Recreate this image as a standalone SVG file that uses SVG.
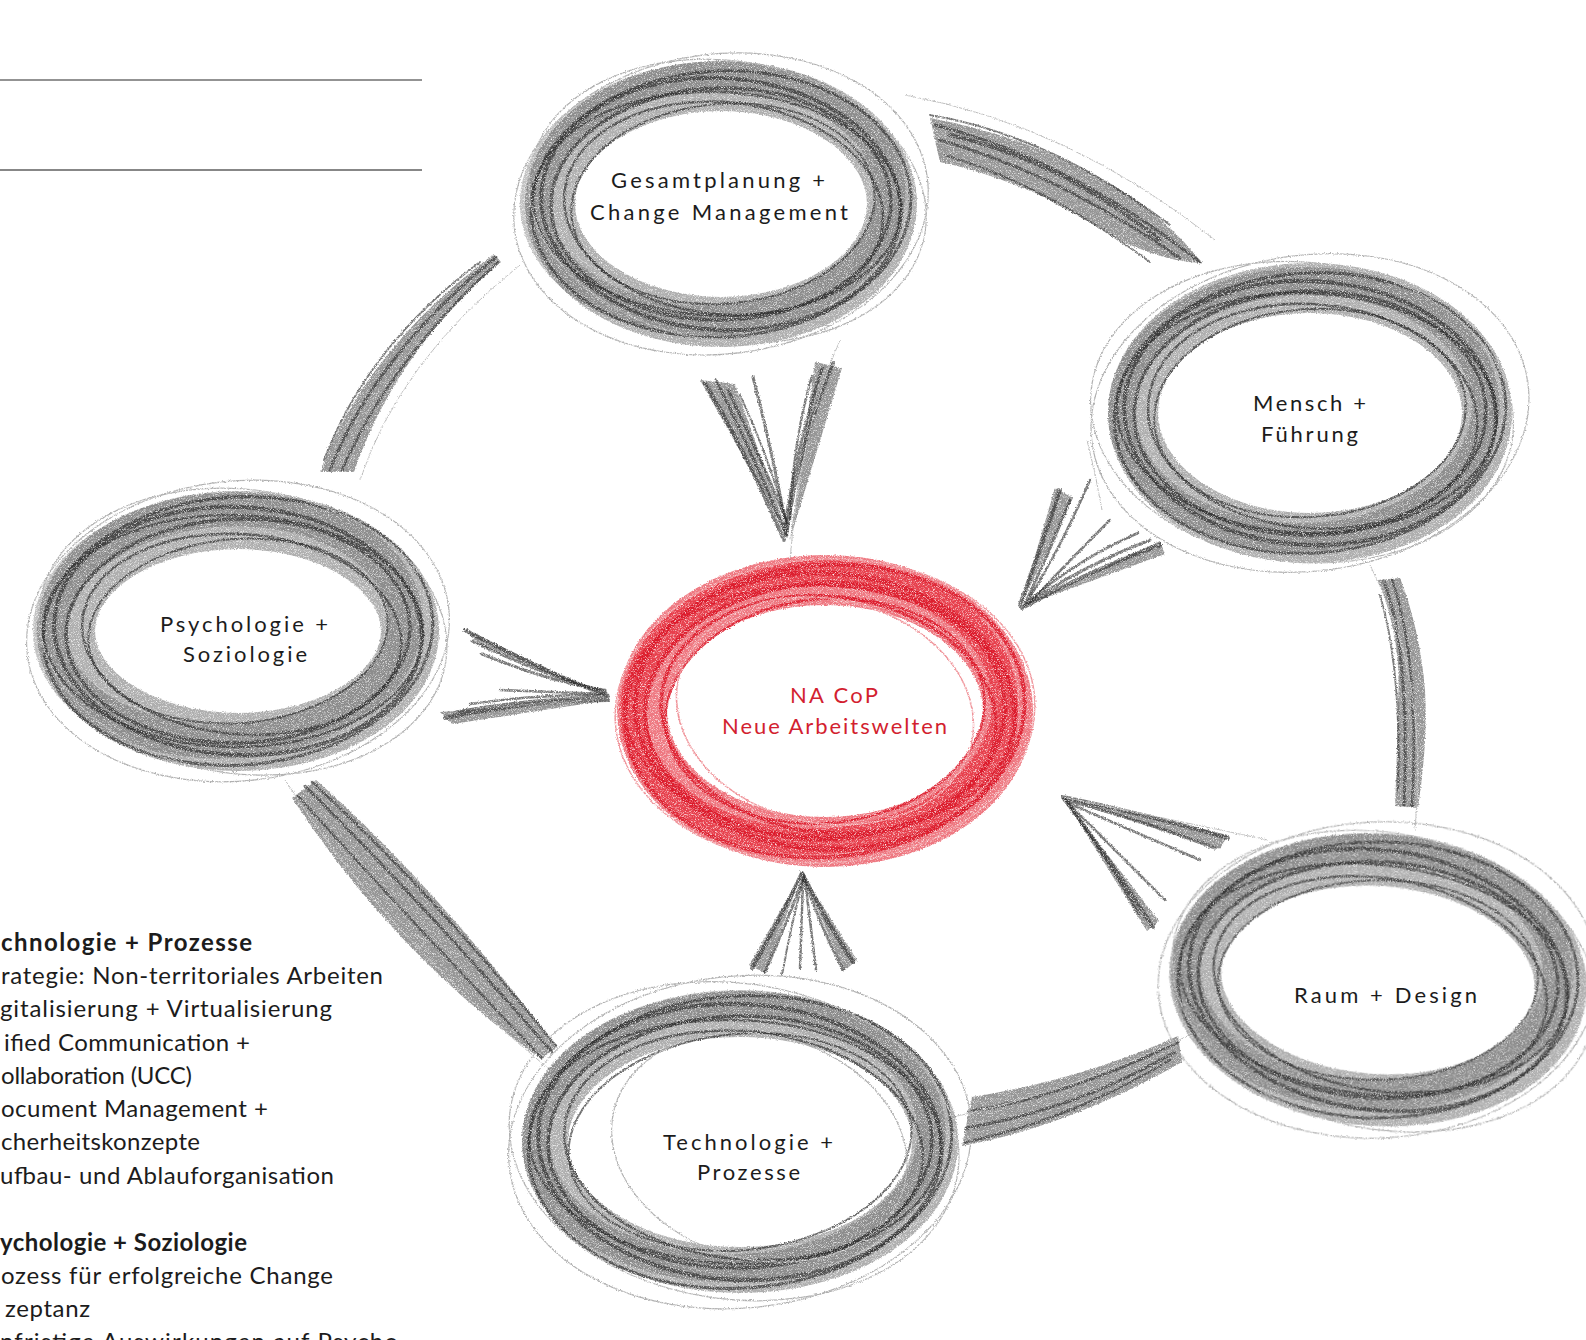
<svg xmlns="http://www.w3.org/2000/svg" width="1586" height="1340" viewBox="0 0 1586 1340">
<defs>
<style>
.band{fill:none;stroke:#6c6c6c;stroke-opacity:.55}
.band2{fill:none;stroke:#4e4e4e;stroke-opacity:.35}
.ln{fill:none;stroke:#303030;stroke-opacity:.7}
.fa{fill:none;stroke:#b0b0b0;stroke-width:1.2}
.rband{fill:none;stroke:#e21d2c;stroke-opacity:.6}
.rln{fill:none;stroke:#dc1a2a;stroke-opacity:.85}
.rfa{fill:none;stroke:#f0959b;stroke-width:1.5}
.hatch{fill:none;stroke:#2e2e2e;stroke-opacity:.65;stroke-linecap:round}
.hfill{fill:#4e4e4e;fill-opacity:.6;stroke:none}
.thin{fill:none;stroke:#bcbcbc;stroke-width:1}
.lbl{font-family:Lato,"Noto Sans","Liberation Sans",sans-serif;font-size:22px;fill:#1c1c1c}
.red{fill:#d31f30}
.lg{font-family:Lato,"Noto Sans","Liberation Sans",sans-serif;font-size:24px;fill:#1c1c1c}
.lgb{font-weight:700}
</style>
<filter id="pencil" x="-10%" y="-10%" width="120%" height="120%" color-interpolation-filters="sRGB">
<feTurbulence type="fractalNoise" baseFrequency="0.7" numOctaves="2" seed="2" result="t"/>
<feDisplacementMap in="SourceGraphic" in2="t" scale="3" xChannelSelector="R" yChannelSelector="G" result="d"/>
<feTurbulence type="fractalNoise" baseFrequency="1.4" numOctaves="1" seed="7" result="g"/>
<feColorMatrix in="g" type="matrix" values="0 0 0 0 0  0 0 0 0 0  0 0 0 0 0  2.8 0 0 0 -0.45" result="ga"/>
<feComposite in="d" in2="ga" operator="in"/>
</filter>
</defs>
<rect width="1586" height="1340" fill="#ffffff"/>

<g id="header-lines">
<line x1="0" y1="80" x2="422" y2="80" stroke="#6f6f6f" stroke-width="1.5"/>
<line x1="0" y1="170" x2="422" y2="170" stroke="#111111" stroke-width="1.2"/>
</g>

<g id="connectors" filter="url(#pencil)">
<g id="c-gesamt-mensch">
<path class="thin" d="M905,95 Q1070,125 1215,240"/>
<path class="hfill" d="M930,118 Q1040,138 1133,198 Q1175,228 1202,263 Q1165,262 1120,240 Q1060,205 1033,192 Q980,170 940,162 Z"/>
<path class="hatch" stroke-width="3" d="M935,125 Q1070,160 1200,262"/>
<path class="hatch" stroke-width="3" d="M940,140 Q1060,175 1180,258"/>
<path class="hatch" stroke-width="2" d="M945,155 Q1045,185 1150,262"/>
<path class="hatch" stroke-width="2" d="M930,115 Q1050,135 1170,225"/>
<path class="hatch" stroke-width="4" d="M950,135 Q1060,160 1160,240"/>
</g>
<g id="c-gesamt-center">
<path class="hfill" d="M700,380 L735,384 L790,540 Z"/>
<path class="hfill" d="M815,362 L842,368 L790,540 Z"/>
<path class="hatch" stroke-width="4" d="M705,383 Q745,450 784,540"/>
<path class="hatch" stroke-width="3" d="M716,380 Q752,452 786,535"/>
<path class="hatch" stroke-width="3" d="M728,390 Q760,455 788,525"/>
<path class="hatch" stroke-width="3" d="M753,377 Q772,450 787,530"/>
<path class="hatch" stroke-width="4" d="M833,363 Q800,440 786,535"/>
<path class="hatch" stroke-width="3" d="M822,368 Q796,450 784,530"/>
<path class="hatch" stroke-width="2.5" d="M812,376 Q793,440 790,520"/>
<path class="hatch" stroke-width="2" d="M740,395 Q770,460 786,520"/>
<path class="thin" d="M840,340 Q800,430 790,560"/>
</g>
<g id="c-psych-center">
<path class="hfill" d="M462,628 L480,645 L610,698 Z"/>
<path class="hfill" d="M440,712 L452,724 L610,700 Z"/>
<path class="hatch" stroke-width="4" d="M465,630 Q540,670 608,696"/>
<path class="hatch" stroke-width="3" d="M472,641 Q545,676 606,692"/>
<path class="hatch" stroke-width="3" d="M482,654 Q550,682 605,690"/>
<path class="hatch" stroke-width="4" d="M445,718 Q530,700 608,700"/>
<path class="hatch" stroke-width="3" d="M456,712 Q535,698 606,697"/>
<path class="hatch" stroke-width="2.5" d="M470,704 Q540,694 600,695"/>
<path class="hatch" stroke-width="2.5" d="M500,690 L605,694"/>
</g>
<g id="c-mensch-center">
<path class="thin" d="M1087,440 Q1096,475 1102,510"/>
<path class="hfill" d="M1055,488 L1073,498 L1020,607 Z"/>
<path class="hfill" d="M1160,541 L1165,554 L1020,607 Z"/>
<path class="hatch" stroke-width="4" d="M1060,490 Q1040,550 1020,605"/>
<path class="hatch" stroke-width="3" d="M1070,500 Q1046,560 1024,606"/>
<path class="hatch" stroke-width="2.5" d="M1090,480 Q1060,550 1028,600"/>
<path class="hatch" stroke-width="4" d="M1160,545 Q1090,570 1022,608"/>
<path class="hatch" stroke-width="3" d="M1150,540 Q1085,565 1026,604"/>
<path class="hatch" stroke-width="2.5" d="M1138,533 Q1080,558 1030,600"/>
<path class="hatch" stroke-width="2.5" d="M1110,520 Q1070,560 1030,602"/>
</g>
<g id="c-raum-center">
<path class="hfill" d="M1063,797 L1228,835 L1220,849 Z"/>
<path class="hfill" d="M1063,797 L1159,921 L1147,931 Z"/>
<path class="hatch" stroke-width="4" d="M1063,797 Q1150,815 1228,838"/>
<path class="hatch" stroke-width="3" d="M1066,800 Q1140,820 1215,848"/>
<path class="hatch" stroke-width="2.5" d="M1068,803 Q1130,830 1200,860"/>
<path class="hatch" stroke-width="4" d="M1063,797 Q1110,860 1153,927"/>
<path class="hatch" stroke-width="3" d="M1066,800 Q1105,855 1140,915"/>
<path class="hatch" stroke-width="2.5" d="M1070,805 Q1115,850 1165,900"/>
<path class="thin" d="M1063,797 L1268,840"/>
</g>
<g id="c-tech-center">
<path class="hfill" d="M802,873 L749,965 L765,973 Z"/>
<path class="hfill" d="M802,873 L857,960 L844,971 Z"/>
<path class="hatch" stroke-width="4" d="M802,873 Q780,920 752,968"/>
<path class="hatch" stroke-width="3" d="M804,876 Q786,925 765,972"/>
<path class="hatch" stroke-width="4" d="M802,873 Q825,920 853,962"/>
<path class="hatch" stroke-width="3" d="M804,878 Q820,925 843,970"/>
<path class="hatch" stroke-width="2.5" d="M803,880 L800,968"/>
<path class="hatch" stroke-width="2.5" d="M805,880 L816,970"/>
<path class="hatch" stroke-width="2" d="M803,880 Q790,930 782,975"/>
</g>
<g id="c-mensch-raum">
<path class="hfill" d="M1378,580 Q1402,640 1398,700 Q1397,760 1395,806 L1418,808 Q1428,740 1425,690 Q1420,630 1400,578 Z"/>
<path class="hatch" stroke-width="3" d="M1384,582 Q1410,650 1404,805"/>
<path class="hatch" stroke-width="2.5" d="M1392,580 Q1420,660 1412,806"/>
<path class="hatch" stroke-width="2" d="M1380,595 Q1402,670 1398,790"/>
<path class="thin" d="M1370,565 Q1430,680 1415,830"/>
</g>
<g id="c-raum-tech">
<path class="hfill" d="M1178,1036 Q1080,1080 972,1097 L962,1146 Q1070,1126 1182,1062 Z"/>
<path class="hatch" stroke-width="3" d="M1178,1042 Q1070,1095 968,1112"/>
<path class="hatch" stroke-width="3" d="M1175,1052 Q1075,1110 966,1128"/>
<path class="hatch" stroke-width="2.5" d="M1170,1060 Q1070,1120 966,1142"/>
<path class="thin" d="M1200,1030 Q1080,1090 940,1120"/>
</g>
<g id="c-tech-psych">
<path class="hfill" d="M316,780 Q430,880 557,1047 L541,1059 Q395,955 292,798 Z"/>
<path class="hatch" stroke-width="3" d="M305,786 Q420,900 552,1052"/>
<path class="hatch" stroke-width="2.5" d="M312,782 Q430,890 556,1046"/>
<path class="hatch" stroke-width="2.5" d="M298,796 Q410,920 542,1058"/>
<path class="thin" d="M285,780 Q380,930 550,1070"/>
</g>
<g id="c-psych-gesamt">
<path class="hfill" d="M320,472 Q365,350 494,254 L501,262 Q395,352 354,472 Z"/>
<path class="hatch" stroke-width="3" d="M330,470 Q375,355 496,257"/>
<path class="hatch" stroke-width="2.5" d="M342,470 Q390,360 498,262"/>
<path class="hatch" stroke-width="2" d="M324,460 Q368,345 480,262"/>
<path class="thin" d="M360,480 Q400,360 520,265"/>
</g>
</g>

<g id="node-gesamtplanung">
<g transform="translate(721,204)" filter="url(#pencil)">
<ellipse class="band" rx="171" ry="118" stroke-width="50"/>
<ellipse class="band2" cx="-8" cy="-6" rx="178" ry="122" stroke-width="30" transform="rotate(-3)"/>
<ellipse class="ln" rx="190" ry="133" transform="rotate(-3)" stroke-width="3"/>
<ellipse class="ln" rx="180" ry="126" transform="rotate(4)" stroke-width="4"/>
<ellipse class="ln" rx="170" ry="116" transform="rotate(-1)" stroke-width="3.5"/>
<ellipse class="ln" cx="3" cy="4" rx="160" ry="106" transform="rotate(6)" stroke-width="2.5"/>
<ellipse class="ln" cx="-4" rx="184" ry="112" transform="rotate(2)" stroke-width="2.5"/>
<ellipse class="ln" cx="2" rx="152" ry="100" transform="rotate(-5)" stroke-width="2"/>
<ellipse class="fa" rx="208" ry="150" transform="rotate(-7)"/>
<ellipse class="fa" cx="6" cy="-4" rx="200" ry="140" transform="rotate(9)"/>
</g>
<text class="lbl" x="611" y="188" textLength="214" lengthAdjust="spacing">Gesamtplanung +</text>
<text class="lbl" x="590" y="220" textLength="258" lengthAdjust="spacing">Change Management</text>
</g>

<g id="node-mensch">
<g transform="translate(1310,413)" filter="url(#pencil)">
<ellipse class="band" rx="177" ry="125" stroke-width="50"/>
<ellipse class="band2" cx="-6" cy="-4" rx="182" ry="128" stroke-width="28" transform="rotate(-2)"/>
<ellipse class="ln" rx="196" ry="140" transform="rotate(-4)" stroke-width="3"/>
<ellipse class="ln" rx="186" ry="132" transform="rotate(3)" stroke-width="4"/>
<ellipse class="ln" rx="176" ry="122" transform="rotate(-1)" stroke-width="3.5"/>
<ellipse class="ln" cx="3" cy="3" rx="165" ry="112" transform="rotate(5)" stroke-width="2.5"/>
<ellipse class="ln" cx="-3" rx="190" ry="120" transform="rotate(2)" stroke-width="2.5"/>
<ellipse class="ln" rx="156" ry="104" transform="rotate(-4)" stroke-width="2"/>
<ellipse class="fa" rx="220" ry="158" transform="rotate(-8)"/>
<ellipse class="fa" cx="-8" rx="212" ry="150" transform="rotate(6)"/>
</g>
<text class="lbl" x="1253" y="411" textLength="113" lengthAdjust="spacing">Mensch +</text>
<text class="lbl" x="1261" y="442" textLength="97" lengthAdjust="spacing">Führung</text>
</g>

<g id="node-psychologie">
<g transform="translate(238,631)" filter="url(#pencil)">
<ellipse class="band" rx="172" ry="111" stroke-width="58"/>
<ellipse class="band2" cx="-10" cy="-6" rx="178" ry="116" stroke-width="34" transform="rotate(-3)"/>
<ellipse class="ln" rx="195" ry="134" transform="rotate(-4)" stroke-width="3"/>
<ellipse class="ln" rx="184" ry="124" transform="rotate(3)" stroke-width="4"/>
<ellipse class="ln" rx="172" ry="112" transform="rotate(-2)" stroke-width="3.5"/>
<ellipse class="ln" cx="4" cy="3" rx="160" ry="100" transform="rotate(5)" stroke-width="2.5"/>
<ellipse class="ln" cx="-5" rx="190" ry="116" transform="rotate(1)" stroke-width="2.5"/>
<ellipse class="ln" rx="150" ry="92" transform="rotate(-5)" stroke-width="2"/>
<ellipse class="fa" rx="212" ry="150" transform="rotate(-6)"/>
<ellipse class="fa" cx="5" rx="205" ry="142" transform="rotate(8)"/>
</g>
<text class="lbl" x="160" y="632" textLength="168" lengthAdjust="spacing">Psychologie +</text>
<text class="lbl" x="183" y="662" textLength="124" lengthAdjust="spacing">Soziologie</text>
</g>

<g id="node-raum">
<g transform="translate(1378,980) rotate(4)" filter="url(#pencil)">
<ellipse class="band" rx="183" ry="120" stroke-width="52"/>
<ellipse class="band2" cx="-6" cy="-8" rx="186" ry="124" stroke-width="30" transform="rotate(-3)"/>
<ellipse class="ln" rx="200" ry="138" transform="rotate(-4)" stroke-width="3"/>
<ellipse class="ln" rx="190" ry="130" transform="rotate(4)" stroke-width="4"/>
<ellipse class="ln" rx="180" ry="118" transform="rotate(-1)" stroke-width="3.5"/>
<ellipse class="ln" cx="3" cy="4" rx="168" ry="106" transform="rotate(6)" stroke-width="2.5"/>
<ellipse class="ln" cx="-4" rx="195" ry="115" transform="rotate(2)" stroke-width="2.5"/>
<ellipse class="ln" rx="160" ry="100" transform="rotate(-5)" stroke-width="2"/>
<ellipse class="fa" rx="220" ry="158" transform="rotate(-7)"/>
<ellipse class="fa" cx="6" rx="214" ry="148" transform="rotate(7)"/>
</g>
<text class="lbl" x="1294" y="1003" textLength="183" lengthAdjust="spacing">Raum + Design</text>
</g>

<g id="node-technologie">
<g transform="translate(740,1142)" filter="url(#pencil)">
<ellipse class="band" rx="195" ry="128" stroke-width="46"/>
<ellipse class="band2" cx="-6" cy="-6" rx="198" ry="132" stroke-width="28" transform="rotate(-2)"/>
<ellipse class="ln" rx="212" ry="146" transform="rotate(-4)" stroke-width="3"/>
<ellipse class="ln" rx="202" ry="138" transform="rotate(3)" stroke-width="4"/>
<ellipse class="ln" rx="192" ry="126" transform="rotate(-1)" stroke-width="3.5"/>
<ellipse class="ln" cx="4" cy="3" rx="180" ry="114" transform="rotate(6)" stroke-width="2.5"/>
<ellipse class="ln" cx="-5" rx="206" ry="122" transform="rotate(2)" stroke-width="2.5"/>
<ellipse class="ln" rx="172" ry="108" transform="rotate(-6)" stroke-width="2"/>
<ellipse class="fa" rx="232" ry="166" transform="rotate(-6)"/>
<ellipse class="fa" cx="-6" rx="226" ry="158" transform="rotate(8)"/>
<ellipse class="fa" cx="20" rx="150" ry="112" transform="rotate(15)"/>
</g>
<text class="lbl" x="663" y="1150" textLength="170" lengthAdjust="spacing">Technologie +</text>
<text class="lbl" x="697" y="1180" textLength="103" lengthAdjust="spacing">Prozesse</text>
</g>

<g id="node-center">
<g transform="translate(825,711)" filter="url(#pencil)">
<ellipse class="rband" rx="183" ry="131" stroke-width="50"/>
<ellipse class="rband" cx="-6" cy="-4" rx="186" ry="134" stroke-width="26" transform="rotate(-3)"/>
<ellipse class="rln" rx="200" ry="146" transform="rotate(-5)" stroke-width="4"/>
<ellipse class="rln" rx="190" ry="138" transform="rotate(4)" stroke-width="5"/>
<ellipse class="rln" rx="180" ry="128" transform="rotate(-2)" stroke-width="4.5"/>
<ellipse class="rln" cx="4" cy="3" rx="168" ry="118" transform="rotate(7)" stroke-width="3.5"/>
<ellipse class="rln" cx="-5" rx="196" ry="126" transform="rotate(2)" stroke-width="3"/>
<ellipse class="rln" rx="160" ry="112" transform="rotate(-6)" stroke-width="2.5"/>
<ellipse class="rfa" rx="150" ry="112" transform="rotate(12)"/>
<ellipse class="rfa" rx="210" ry="152" transform="rotate(-3)"/>
</g>
<text class="lbl red" x="790" y="703" textLength="88" lengthAdjust="spacing">NA CoP</text>
<text class="lbl red" x="722" y="734" textLength="225" lengthAdjust="spacing">Neue Arbeitswelten</text>
</g>

<g id="legend-text">
<text class="lg lgb" x="1" y="951" textLength="251" lengthAdjust="spacing">chnologie + Prozesse</text>
<text class="lg" x="1" y="984" textLength="382" lengthAdjust="spacing">rategie: Non-territoriales Arbeiten</text>
<text class="lg" x="0" y="1017" textLength="332" lengthAdjust="spacing">gitalisierung + Virtualisierung</text>
<text class="lg" x="4" y="1051" textLength="246" lengthAdjust="spacing">ified Communication +</text>
<text class="lg" x="1" y="1084" textLength="191" lengthAdjust="spacing">ollaboration (UCC)</text>
<text class="lg" x="1" y="1117" textLength="267" lengthAdjust="spacing">ocument Management +</text>
<text class="lg" x="1" y="1150" textLength="199" lengthAdjust="spacing">cherheitskonzepte</text>
<text class="lg" x="0" y="1184" textLength="334" lengthAdjust="spacing">ufbau- und Ablauforganisation</text>
<text class="lg lgb" x="0" y="1251" textLength="247" lengthAdjust="spacing">ychologie + Soziologie</text>
<text class="lg" x="1" y="1284" textLength="332" lengthAdjust="spacing">ozess für erfolgreiche Change</text>
<text class="lg" x="5" y="1317" textLength="85" lengthAdjust="spacing">zeptanz</text>
<text class="lg" x="0" y="1350" textLength="398" lengthAdjust="spacing">nfristige Auswirkungen auf Psycho</text>
</g>
</svg>
